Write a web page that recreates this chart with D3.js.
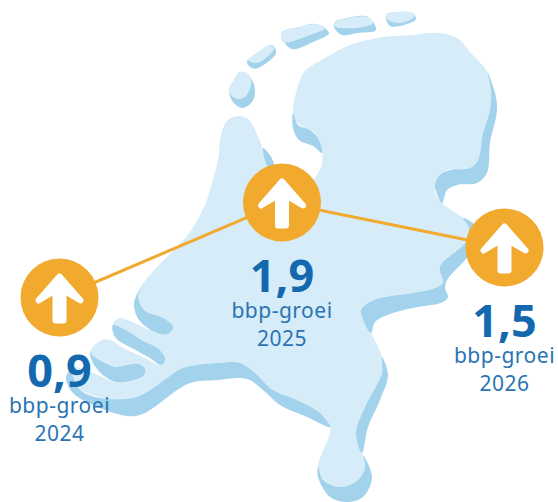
<!DOCTYPE html>
<html>
<head>
  <meta charset="utf-8">
  <title>bbp-groei</title>
  <script src="https://d3js.org/d3.v7.min.js"></script>
  <style>
    html, body { margin: 0; padding: 0; background: #fff; }
    svg { display: block; }
    text { font-family: "Noto Sans", sans-serif; text-anchor: middle; }
  </style>
</head>
<body>
<script>

// chart values
var years = ["2024", "2025", "2026"];
var growth = [0.9, 1.9, 1.5];
var label = "bbp-groei";

// map outline, traced by hand in picture pixels
var land = [[240,116],[250,121],[258,137],[263,148],[272,163],[282,190],[300,195],[315,178],[322,163],[322,152],
  [315,133],[303,127],[295,120],[293,113],[295,97],[300,80],[306,70],[327,57],[350,45],[383,37],[413,35],[438,33],
  [457,38],[470,52],[488,73],[491,90],[490,110],[483,133],[478,160],[470,168],[447,170],[437,182],[435,192],[442,203],
  [463,218],[469,225],[465,243],[440,265],[445,287],[413,293],[380,298],[362,307],[362,317],[371,333],[382,357],[382,373],
  [365,407],[356,433],[362,453],[365,467],[358,480],[340,487],[323,480],[318,467],[322,453],[329,437],[330,427],
  [320,413],[297,400],[273,390],[255,373],[240,363],[217,363],[183,368],[167,378],[150,390],[133,398],[115,400],[95,396],
  [80,390],[70,382],[67,372],[74,367],[85,370],[100,376],[115,383],[103,375],[93,363],[90,352],[100,341],[110,340],
  [125,349],[145,358],[160,366],[145,355],[130,347],[118,340],[113,330],[114,322],[120,318],[130,321],[143,327],[150,330],
  [140,317],[135,300],[142,285],[157,267],[172,252],[190,232],[205,205],[212,183],[218,160],[221,135],[228,120]];

var shadows = [
  [[293,113],[293,128],[299,140],[313,146],[322,153],[318,138],[310,130],[298,125]],
  [[488,73],[495,93],[497,110],[490,143],[487,173],[477,183],[457,185],[447,190],[442,203],[437,194],[435,185],[440,175],[450,170],[470,168],[478,160],[483,133],[490,110],[491,90]],
  [[263,148],[270,155],[274,166],[268,166]],
  [[463,218],[474,224],[480,240],[467,258],[447,280],[445,288],[448,297],[443,302],[413,308],[390,314],[375,322],[371,333],[362,317],[361,310],[366,304],[380,298],[413,293],[433,289],[443,283],[440,266],[465,243],[469,228]],
  [[382,357],[388,375],[380,400],[368,427],[362,453],[356,433],[365,407],[382,373]],
  [[363,455],[372,477],[363,497],[347,502],[330,497],[318,477],[318,467],[323,480],[340,487],[358,480],[365,467]],
  [[330,427],[307,417],[280,405],[263,390],[247,379],[217,380],[190,383],[173,393],[153,408],[140,415],[127,416],[100,408],[73,393],[66,378],[70,372],[80,390],[100,398],[133,398],[150,390],[167,378],[183,368],[217,363],[240,363],[255,373],[273,390],[297,400],[320,413]],
  [[142,287],[134,303],[139,320],[155,332],[168,334],[173,327],[163,318],[145,311],[138,297]],
  [[113,325],[115,337],[132,348],[150,358],[162,365],[165,358],[157,348],[143,341],[127,331]],
  [[90,352],[93,363],[103,375],[117,382],[143,376],[145,369],[138,364],[127,365],[115,367],[103,362],[93,356]]
];

var islandsDark = [
  [[240,72],[233,82],[229,90],[233,102],[242,108],[252,102],[255,90],[250,77]],
  [[272,45],[276,53],[258,68],[252,68],[247,62],[257,53]],
  [[315,24],[329,33],[313,42],[292,49],[282,38],[282,32],[300,27]],
  [[335,22],[347,18],[368,17],[376,30],[357,33],[342,35],[334,27]],
  [[387,14],[412,13],[416,19],[400,26],[390,26],[386,18]]
];
var islandsLight = [
  [[240,72],[233,82],[229,92],[237,99],[245,97],[251,85],[250,76],[245,72]],
  [[270,45],[274,49],[257,63],[248,60],[257,53]],
  [[315,24],[326,28],[310,35],[283,42],[282,32],[300,27]],
  [[335,22],[347,18],[368,17],[373,23],[357,28],[334,26]],
  [[387,14],[412,13],[414,17],[400,23],[387,19]]
];

var arrow = [[0,-21],[21,3],[4,-7],[4,23],[-4,23],[-4,-7],[-21,3]];

var width = 558,
    height = 502;

var x = d3.scalePoint().domain(years).range([59.5, 504.5]);
var y = d3.scaleLinear().domain([0.9, 1.5, 1.9]).range([297.5, 247.5, 202.5]);

var format = function(v) { return String(v).replace(".", ","); };

var svg = d3.select("body").append("svg")
    .attr("width", width)
    .attr("height", height);

var outline = d3.line().curve(d3.curveCatmullRomClosed.alpha(0.5));

svg.append("path").attr("d", outline(land)).attr("fill", "#d6ecf8");

svg.selectAll(".shadow")
  .data(shadows)
  .enter().append("path")
    .attr("class", "shadow")
    .attr("d", outline)
    .attr("fill", "#a2d2ec");

svg.selectAll(".island-dark")
  .data(islandsDark)
  .enter().append("path")
    .attr("class", "island-dark")
    .attr("d", outline)
    .attr("fill", "#a2d2ec");

svg.selectAll(".island-light")
  .data(islandsLight)
  .enter().append("path")
    .attr("class", "island-light")
    .attr("d", outline)
    .attr("fill", "#d6ecf8");

var points = years.map(function(d, i) { return {year: d, value: growth[i]}; });

var trend = d3.line()
    .x(function(d) { return x(d.year); })
    .y(function(d) { return y(d.value); });

svg.append("path")
    .attr("d", trend(points))
    .attr("fill", "none")
    .attr("stroke", "#f1a92e")
    .attr("stroke-width", 3);

var item = svg.selectAll(".item")
  .data(points)
  .enter().append("g")
    .attr("class", "item")
    .attr("transform", function(d) { return "translate(" + x(d.year) + "," + y(d.value) + ")"; });

item.append("circle")
    .attr("r", 39)
    .attr("fill", "#f1a92e");

item.append("path")
    .attr("d", d3.line().curve(d3.curveLinearClosed)(arrow))
    .attr("fill", "#fff")
    .attr("stroke", "#fff")
    .attr("stroke-width", 6)
    .attr("stroke-linejoin", "round");

item.append("text")
    .attr("y", 89.5)
    .attr("font-size", 45)
    .attr("font-weight", 700)
    .attr("fill", "#1469ae")
    .text(function(d) { return format(d.value); });

item.append("text")
    .attr("y", 115.5)
    .attr("font-size", 21)
    .attr("letter-spacing", 0.5)
    .attr("fill", "#2a74b3")
    .text(label);

item.append("text")
    .attr("y", 143.5)
    .attr("font-size", 21)
    .attr("letter-spacing", 0.5)
    .attr("fill", "#2a74b3")
    .text(function(d) { return d.year; });

</script>
</body>
</html>
